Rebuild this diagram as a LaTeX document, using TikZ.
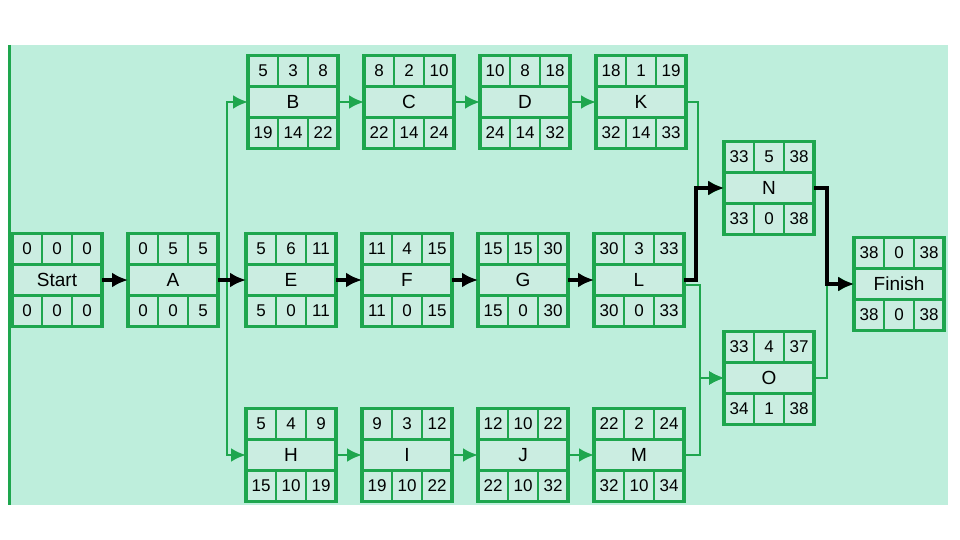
\documentclass[tikz,border=0pt]{standalone}
\usepackage{fontspec}
\setmainfont{Liberation Sans}
\usetikzlibrary{arrows.meta,positioning,calc}
\definecolor{fond}{RGB}{190,238,220}
\definecolor{vert}{RGB}{30,166,78}
\definecolor{cellC}{RGB}{203,237,225}
\tikzset{
  cell/.style={rectangle, draw=vert, line width=1.8pt, fill=cellC, inner sep=0pt, outer sep=0pt,
               minimum width=30pt, minimum height=31pt, font=\fontsize{17}{17}\selectfont},
  namecell/.style={cell, minimum width=90pt, font=\fontsize{19}{19}\selectfont},
  boxline/.style={draw=vert, line width=3.2pt},
  critarr/.style={-{Latex[length=16pt,width=15pt]}, line width=3.8pt, draw=black},
  linkarr/.style={-{Latex[length=15pt,width=14pt]}, line width=2.8pt, draw=vert},
  thinarr/.style={-{Latex[length=15pt,width=14pt]}, line width=1.7pt, draw=vert},
}
% activity box: name, position, label, ES D EF, LS float LF
\newcommand{\actnode}[9]{%
  \node[namecell] (#1) at (#2) {#3};
  \node[cell, anchor=south west] (#1-es) at (#1.north west) {#4};
  \node[cell, anchor=south] (#1-d) at (#1.north) {#5};
  \node[cell, anchor=south east] (#1-ef) at (#1.north east) {#6};
  \node[cell, anchor=north west] (#1-ls) at (#1.south west) {#7};
  \node[cell, anchor=north] (#1-fl) at (#1.south) {#8};
  \node[cell, anchor=north east] (#1-lf) at (#1.south east) {#9};
  \draw[boxline] (#1.north west) -- (#1.north east) (#1.south west) -- (#1.south east);
  \draw[boxline] (#1-es.north west) rectangle (#1-lf.south east);
}

\begin{document}
\begin{tikzpicture}[x=1pt, y=-1pt]
  \useasboundingbox (0,0) rectangle (960,540);
  \fill[fond] (10,45) rectangle (948,505);
  \draw[vert, line width=3pt] (9,45) -- (9,505);

  \actnode{Start}{57,280}{Start}{0}{0}{0}{0}{0}{0}
  \actnode{A}{173,280}{A}{0}{5}{5}{0}{0}{5}
  \actnode{B}{293,102}{B}{5}{3}{8}{19}{14}{22}
  \actnode{C}{409,102}{C}{8}{2}{10}{22}{14}{24}
  \actnode{D}{525,102}{D}{10}{8}{18}{24}{14}{32}
  \actnode{K}{641,102}{K}{18}{1}{19}{32}{14}{33}
  \actnode{E}{291,280}{E}{5}{6}{11}{5}{0}{11}
  \actnode{F}{407,280}{F}{11}{4}{15}{11}{0}{15}
  \actnode{G}{523,280}{G}{15}{15}{30}{15}{0}{30}
  \actnode{L}{639,280}{L}{30}{3}{33}{30}{0}{33}
  \actnode{H}{291,455}{H}{5}{4}{9}{15}{10}{19}
  \actnode{I}{407,455}{I}{9}{3}{12}{19}{10}{22}
  \actnode{J}{523,455}{J}{12}{10}{22}{22}{10}{32}
  \actnode{M}{639,455}{M}{22}{2}{24}{32}{10}{34}
  \actnode{N}{769,188}{N}{33}{5}{38}{33}{0}{38}
  \actnode{O}{769,378}{O}{33}{4}{37}{34}{1}{38}
  \actnode{Finish}{899,284}{Finish}{38}{0}{38}{38}{0}{38}

  % non-critical links
  \draw[linkarr] (A.east) -- ++(9,0) |- (B);
  \draw[linkarr] (A.east) -- ++(9,0) |- (H);
  \draw[linkarr] (B) -- (C); \draw[linkarr] (C) -- (D); \draw[linkarr] (D) -- (K);
  \draw[linkarr] (H) -- (I); \draw[linkarr] (I) -- (J); \draw[linkarr] (J) -- (M);
  \draw[thinarr] (K.east) -- ++(12,0) |- (N);
  \draw[thinarr] ([yshift=-5pt]L.east) -- ++(16,0) |- (O);
  \draw[thinarr] (M.east) -- ++(16,0) |- (O);
  \draw[thinarr] (O.east) -- ++(13,0) |- (Finish);

  % critical path
  \draw[critarr] (Start) -- (A); \draw[critarr] (A) -- (E);
  \draw[critarr] (E) -- (F); \draw[critarr] (F) -- (G); \draw[critarr] (G) -- (L);
  \draw[critarr] (L.east) -- ++(12,0) |- (N);
  \draw[critarr] (N.east) -- ++(13,0) |- (Finish);
\end{tikzpicture}
\end{document}
